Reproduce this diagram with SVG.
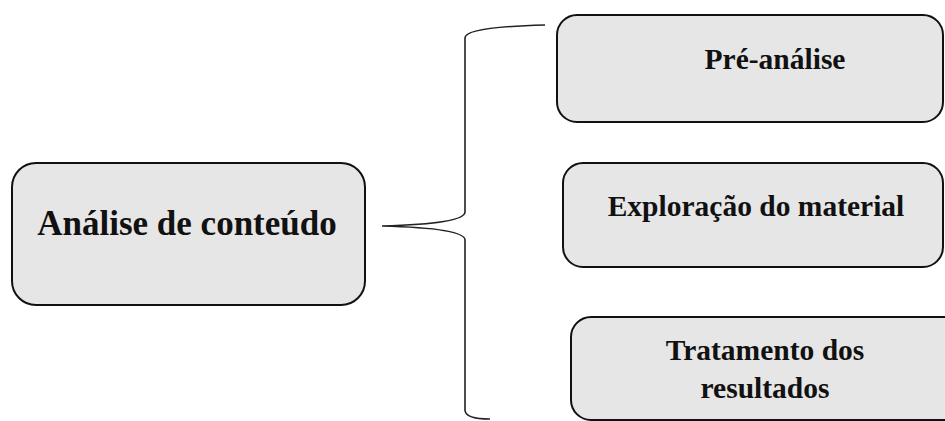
<svg xmlns="http://www.w3.org/2000/svg" width="945" height="421" viewBox="0 0 945 421">
<style>
.box{fill:#e6e6e6;stroke:#111;stroke-width:2}
.t{font-family:"Liberation Serif","Times New Roman",serif;font-weight:bold;fill:#111;text-anchor:middle}
.brace{fill:none;stroke:#222;stroke-width:1.6}
</style>
<rect width="945" height="421" fill="#fff"/>
<g id="connectors">
<path class="brace" d="M545,25 C505,26 465,29 465,38 L465,212 C465,222 420,225 382,226 C420,227 465,230 465,240 L465,410 C465,416 475,419 490,419"/>
</g>
<g id="node-analise">
<rect class="box" x="12" y="163" width="353" height="142" rx="24"/>
<text class="t" x="187" y="235" font-size="35">Análise de conteúdo</text>
</g>
<g id="node-pre">
<rect class="box" x="557" y="15" width="386" height="107" rx="20"/>
<text class="t" x="775" y="69" font-size="29.5">Pré-análise</text>
</g>
<g id="node-exploracao">
<rect class="box" x="563" y="163" width="380" height="104" rx="20"/>
<text class="t" x="756" y="216" font-size="29.5">Exploração do material</text>
</g>
<g id="node-tratamento">
<rect class="box" x="571" y="317" width="400" height="103" rx="20"/>
<text class="t" x="765" y="360" font-size="29.5">Tratamento dos</text>
<text class="t" x="765" y="398" font-size="29.5">resultados</text>
</g>
</svg>
